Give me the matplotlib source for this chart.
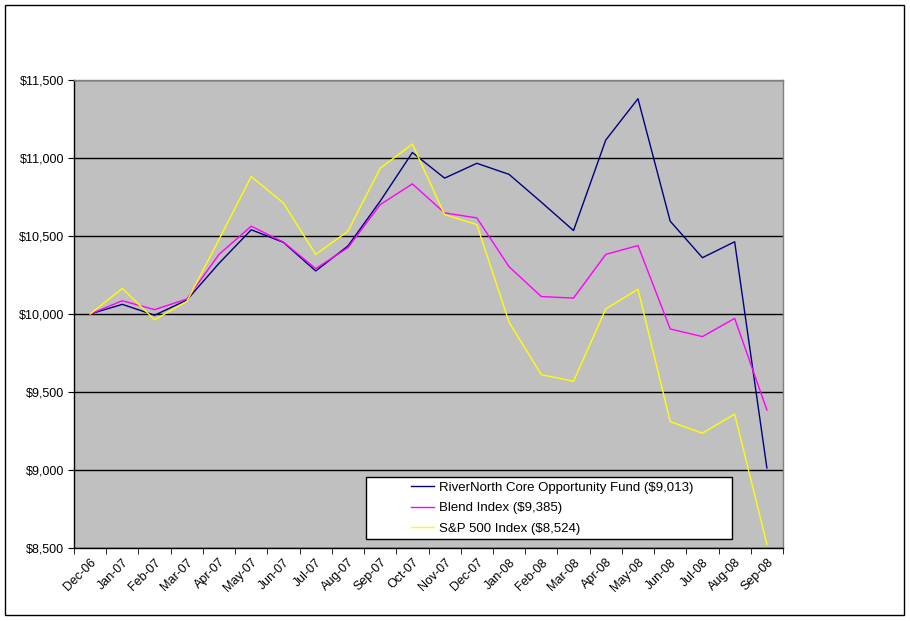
import matplotlib
matplotlib.use("Agg")
import matplotlib.pyplot as plt
from matplotlib.patches import Rectangle
import matplotlib.transforms as mtransforms
import numpy as np

plt.rcParams['font.family'] = ['Liberation Sans', 'DejaVu Sans']

months = ["Dec-06", "Jan-07", "Feb-07", "Mar-07", "Apr-07", "May-07", "Jun-07",
          "Jul-07", "Aug-07", "Sep-07", "Oct-07", "Nov-07", "Dec-07", "Jan-08",
          "Feb-08", "Mar-08", "Apr-08", "May-08", "Jun-08", "Jul-08", "Aug-08",
          "Sep-08"]

rivernorth = [10000, 10062, 9992, 10089, 10325, 10540, 10459, 10276, 10436,
              10723, 11035, 10871, 10966, 10895, 10717, 10535, 11115, 11380,
              10595, 10361, 10463, 9013]
blend = [10000, 10085, 10028, 10096, 10382, 10563, 10461, 10291, 10425,
         10701, 10834, 10648, 10616, 10303, 10112, 10102, 10382, 10439,
         9904, 9855, 9972, 9385]
sp500 = [10000, 10164, 9963, 10080, 10478, 10881, 10711, 10382, 10531,
         10934, 11089, 10637, 10573, 9947, 9611, 9569, 10032, 10159,
         9310, 9236, 9358, 8524]

labels = ["RiverNorth Core Opportunity Fund ($9,013)",
          "Blend Index ($9,385)",
          "S&P 500 Index ($8,524)"]
colors = ["#000080", "#FF00FF", "#FFFF00"]

yticks = [8500, 9000, 9500, 10000, 10500, 11000, 11500]
yticklabels = ["$8,500", "$9,000", "$9,500", "$10,000", "$10,500", "$11,000", "$11,500"]

W, H = 910, 621
fig = plt.figure(figsize=(W/100, H/100), dpi=100)
fig.patch.set_facecolor("white")

# plot area in pixels
px0, py0, px1, py1 = 74, 80, 783, 548
ax = fig.add_axes([px0/W, 1-py1/H, (px1-px0)/W, (py1-py0)/H])
ax.set_facecolor("#C0C0C0")

x = np.arange(len(months))
for series, c, lab in zip([rivernorth, blend, sp500], colors, labels):
    ax.plot(x, series, color=c, lw=1.0, label=lab, zorder=3)

ax.set_xlim(-0.5, len(months)-0.5)
ax.set_ylim(8500, 11500)
ax.set_yticks(yticks)
ax.set_yticklabels(yticklabels, fontsize=9)
ax.yaxis.grid(True, color="black", lw=1.0)
ax.set_axisbelow(True)

ax.set_xticks(x)
ax.set_xticklabels(months, rotation=45, ha="right", va="top",
                   rotation_mode="anchor", fontsize=9)
shift = mtransforms.ScaledTranslation(-6/100, -2/100, fig.dpi_scale_trans)
for lbl in ax.get_xticklabels():
    lbl.set_transform(lbl.get_transform() + shift)
ax.set_xticks(np.arange(-0.5, len(months)), minor=True)
ax.tick_params(axis="x", which="major", length=0, pad=6)
ax.tick_params(axis="x", which="minor", length=4, direction="out", color="black")
ax.tick_params(axis="y", length=4, direction="out", pad=3)

ax.spines["left"].set_color("black")
ax.spines["bottom"].set_color("black")
ax.spines["top"].set_color("#808080")
ax.spines["right"].set_color("#808080")
for s in ax.spines.values():
    s.set_linewidth(1.0)

# legend box
lx0, ly0, lx1, ly1 = 366, 477, 732, 539
ax.add_patch(Rectangle((lx0/W, 1-ly1/H), (lx1-lx0)/W, (ly1-ly0)/H,
                       transform=fig.transFigure, facecolor="white",
                       edgecolor="black", lw=1.0, zorder=5, clip_on=False))
leg = ax.legend(loc="center left", bbox_to_anchor=(399/W, 1-508/H),
                bbox_transform=fig.transFigure, frameon=False, fontsize=9.5,
                handlelength=1.75, handletextpad=0.35, labelspacing=0.62)
leg.set_zorder(6)

# outer chart border
fig.patches.append(Rectangle((5/W, 1-615/H), 899/W, 610/H,
                             transform=fig.transFigure, fill=False,
                             edgecolor="black", lw=1.0))

fig.savefig("out.png", dpi=100)
